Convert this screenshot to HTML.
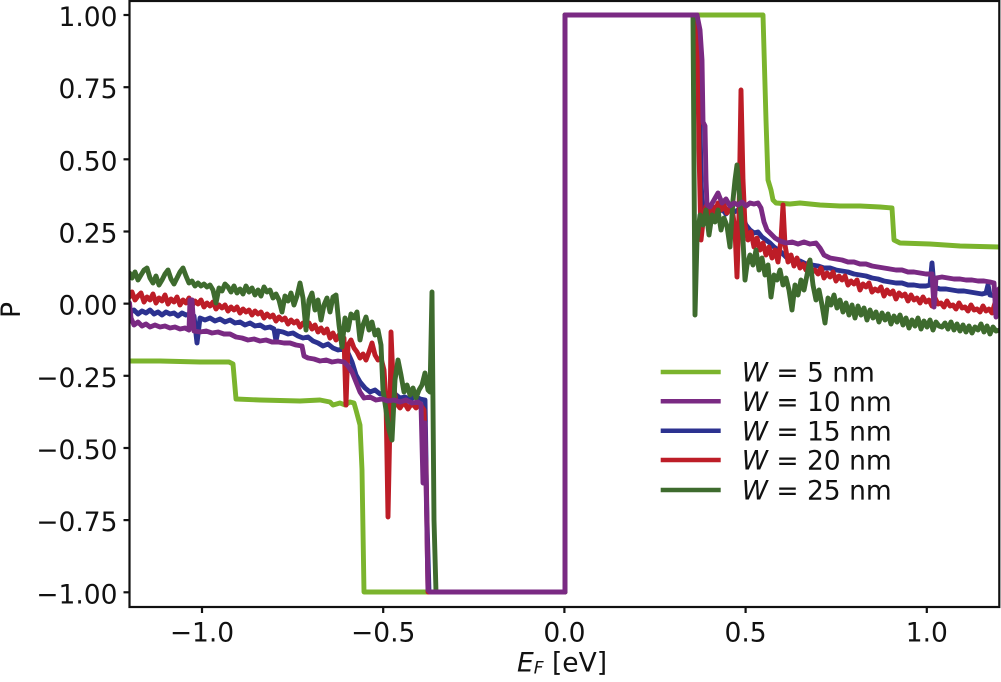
<!DOCTYPE html>
<html><head><meta charset="utf-8"><style>
html,body{margin:0;padding:0;background:#fff;}
svg{display:block;}
text{font-family:"DejaVu Sans","Liberation Sans",sans-serif;fill:#111;}
</style></head><body>
<svg width="1001" height="682" viewBox="0 0 1001 682" xmlns="http://www.w3.org/2000/svg">
<defs><clipPath id="ax"><rect x="129.5" y="1" width="869.8" height="606"/></clipPath></defs>
<rect width="1001" height="682" fill="#fff"/>
<g clip-path="url(#ax)" fill="none" stroke-width="4.9" stroke-linejoin="round" stroke-linecap="round">
<!-- W=5 light green -->
<polyline stroke="#7bb42d" points="129.5,361 160,361 200,362 229,362 233,364 236,399 260,400 300,401 320,400 330,402 333,405 340,403 345,405 350,402 354,403 356,410 360,425 362,470 364,592 565,592 565,15 763,15 766,120 768,180 771,190 773,200 776,203 790,204 800,203 820,205 840,206 860,206 880,207 892,208 894,240 900,243 930,244 960,246 1000,247"/>
<!-- W=15 blue -->
<polyline stroke="#2c3290" points="129.5,313 134,310 138,314 142,311 146,313 150,310 154,314 158,312 162,315 166,312 170,314 174,313 178,316 182,313 186,315 190,314 194,316 197,343 200,318 205,320 210,318 215,321 220,319 225,322 230,320 235,323 240,322 245,325 250,323 255,326 260,325 265,328 270,327 274,329 276,341 278,331 283,332 288,334 293,333 298,336 303,338 308,337 313,341 318,343 323,346 328,344 333,348 338,350 343,349 348,353 352,362 356,375 360,382 365,388 370,392 375,390 380,394 385,393 390,396 395,394 400,398 405,397 410,400 415,396 420,399 425,400 427,520 429,592 565,592 565,15 697,15 699,60 701,180 703,222 706,206 710,212 714,208 718,213 722,209 726,214 730,208 734,212 738,210 742,215 746,225 750,230 754,233 758,232 762,237 766,240 770,243 774,247 778,250 782,253 786,257 790,260 795,262 800,261 806,264 812,265 818,266 824,268 830,268 836,270 842,271 848,272 854,274 860,275 866,276 872,278 878,279 884,281 890,282 896,283 902,283 908,285 914,285 920,286 926,286 930,285 932,263 934,287 940,289 946,289 952,290 958,291 964,291 970,292 976,293 982,294 986,293 988,285 990,295 995,296 1000,296"/>
<!-- W=20 red -->
<polyline stroke="#bd1d27" points="129.5,297 132,292 135,300 138,296 141,293 144,302 147,297 150,300 153,294 156,303 159,298 162,301 165,295 168,304 171,299 174,302 177,297 180,305 183,300 186,303 189,298 192,306 195,301 198,304 201,300 204,307 207,303 210,306 213,302 216,309 219,305 222,308 225,305 228,311 231,307 234,310 237,307 240,313 243,309 246,312 249,310 252,315 255,311 258,314 261,312 264,318 267,314 270,317 273,315 276,321 279,317 282,320 285,318 288,324 291,320 294,323 297,321 300,327 303,323 306,326 309,323 312,329 315,325 318,332 321,328 324,333 327,329 330,338 333,333 336,340 339,335 342,342 344,338 346,405 348,345 351,340 354,348 357,352 360,358 363,354 366,360 369,352 372,343 375,355 378,360 381,358 384,370 386,400 388,517 390,420 391,332 393,380 396,403 400,408 404,402 408,409 412,403 416,408 420,404 424,410 426,470 428,592 565,592 565,15 697,15 699,150 701,240 703,222 706,206 709,214 712,205 715,212 718,203 721,210 724,205 727,213 730,207 733,215 735,230 737,277 739,215 741,90 743,180 745,225 748,240 751,232 754,247 757,238 760,250 763,243 766,255 769,247 772,258 775,250 778,262 781,240 783,205 785,245 788,262 791,255 794,266 797,258 800,268 803,264 806,270 809,262 812,272 815,270 818,274 821,268 824,278 827,273 830,277 833,272 836,281 839,276 842,280 845,276 848,285 851,281 854,284 857,280 860,290 863,284 866,287 869,283 872,292 875,289 878,291 881,287 884,296 887,290 890,294 893,291 896,299 899,293 902,296 905,294 908,301 911,295 914,300 917,298 920,303 923,297 926,302 929,300 932,306 935,298 938,304 941,303 944,307 947,301 950,306 953,305 956,309 959,303 962,308 965,307 968,311 971,305 974,310 977,309 980,312 983,306 986,311 989,309 992,313 995,303 998,311 1000,309"/>
<!-- W=25 dark green -->
<polyline stroke="#3e6b2e" points="129.5,273 132,278 135,272 138,280 141,275 144,270 147,268 150,278 153,283 156,276 159,285 162,280 165,274 168,270 171,279 174,284 177,278 180,272 183,268 186,276 189,283 192,281 195,286 198,283 201,286 204,284 207,287 210,285 213,290 216,303 219,288 222,291 225,284 228,287 231,292 234,286 237,293 240,289 243,294 246,286 249,292 252,288 255,295 258,290 261,296 264,287 267,292 270,290 273,298 276,294 279,300 282,312 285,296 288,301 291,293 294,305 297,296 300,283 303,298 306,330 309,300 312,293 315,310 318,300 321,320 324,305 327,298 330,312 333,297 336,295 339,325 342,347 345,318 348,330 351,314 354,318 357,312 360,340 363,325 366,317 369,330 372,322 375,335 378,330 381,345 383,390 386,410 389,430 392,440 395,380 398,360 401,375 404,392 407,385 410,395 413,388 416,398 419,390 422,385 425,373 428,390 430,392 432,292 434,520 436,592 565,592 565,15 693,15 695,315 697,240 700,215 703,225 706,210 709,235 712,215 715,222 718,210 721,230 724,218 727,226 730,247 733,200 735,180 737,165 739,190 741,215 743,240 745,280 747,265 750,255 753,265 756,250 759,270 762,258 765,275 768,265 771,297 774,275 777,280 780,270 783,285 786,278 789,290 792,310 795,285 798,295 801,280 804,290 807,275 810,260 813,285 816,300 819,290 822,305 825,323 828,298 831,305 834,295 837,308 840,300 843,312 846,303 849,315 852,305 855,318 858,306 861,315 864,308 867,320 870,310 873,318 876,312 879,322 882,313 885,320 888,314 891,324 894,316 897,322 900,315 903,325 906,318 909,328 912,320 915,326 918,318 921,329 924,321 927,327 930,320 933,330 936,322 939,326 942,327 945,323 948,329 951,322 954,330 957,324 960,331 963,325 966,332 969,326 972,333 975,327 978,330 981,324 984,332 987,326 990,334 993,327 996,331 1000,330"/>
<!-- W=10 purple -->
<polyline stroke="#7a2a83" points="129.5,303 131,318 134,325 138,322 142,326 146,324 150,327 155,325 160,327 165,326 170,328 175,327 180,329 185,328 189,330 190,300 192,300 194,331 200,332 206,331 212,333 218,332 224,334 230,334 236,337 242,338 248,340 254,339 260,341 266,340 272,342 278,342 284,343 290,343 296,345 302,346 304,356 308,358 314,359 320,361 326,360 332,362 338,361 344,362 348,366 352,372 356,382 360,392 364,398 370,397 376,400 382,399 388,401 394,400 400,402 406,400 412,403 418,402 421,404 423,483 425,423 428,590 430,592 565,592 565,15 697,15 700,30 702,60 703,122 705,126 706,180 707,205 710,207 714,200 718,193 722,203 726,199 730,206 734,203 738,205 742,202 746,206 750,203 754,204 758,203 761,208 764,222 767,230 771,234 775,238 780,241 786,243 792,242 798,244 804,242 810,244 816,243 820,248 824,255 830,258 836,259 842,260 848,262 854,262 860,264 866,264 872,266 878,267 884,268 890,269 896,270 902,270 908,272 914,272 920,273 926,274 932,274 934,307 936,278 942,277 948,278 954,279 960,279 966,280 972,280 978,281 984,281 990,282 994,283 996,317 998,290 1000,288"/>
</g>
<!-- spines -->
<g stroke="#111" stroke-width="2.2" fill="none">
<rect x="129.5" y="1" width="869.8" height="606"/>
<line x1="123.5" y1="15" x2="129.5" y2="15"/>
<line x1="123.5" y1="87.2" x2="129.5" y2="87.2"/>
<line x1="123.5" y1="159.3" x2="129.5" y2="159.3"/>
<line x1="123.5" y1="231.5" x2="129.5" y2="231.5"/>
<line x1="123.5" y1="303.65" x2="129.5" y2="303.65"/>
<line x1="123.5" y1="375.8" x2="129.5" y2="375.8"/>
<line x1="123.5" y1="448" x2="129.5" y2="448"/>
<line x1="123.5" y1="520.1" x2="129.5" y2="520.1"/>
<line x1="123.5" y1="592.3" x2="129.5" y2="592.3"/>
<line x1="202" y1="607" x2="202" y2="613"/>
<line x1="383.2" y1="607" x2="383.2" y2="613"/>
<line x1="564.4" y1="607" x2="564.4" y2="613"/>
<line x1="745.6" y1="607" x2="745.6" y2="613"/>
<line x1="926.8" y1="607" x2="926.8" y2="613"/>
</g>
<!-- y tick labels -->
<g font-size="26.5" text-anchor="end">
<text x="117.5" y="26">1.00</text>
<text x="117.5" y="98.2">0.75</text>
<text x="117.5" y="170.3">0.50</text>
<text x="117.5" y="242.5">0.25</text>
<text x="117.5" y="314.6">0.00</text>
<text x="117.5" y="386.8">−0.25</text>
<text x="117.5" y="459">−0.50</text>
<text x="117.5" y="531.1">−0.75</text>
<text x="117.5" y="603.3">−1.00</text>
</g>
<!-- x tick labels -->
<g font-size="26.5" text-anchor="middle">
<text x="202" y="641.7">−1.0</text>
<text x="383.2" y="641.7">−0.5</text>
<text x="564.4" y="641.7">0.0</text>
<text x="745.6" y="641.7">0.5</text>
<text x="926.8" y="641.7">1.0</text>
</g>
<!-- axis labels -->
<text x="517" y="671.7" font-size="26.5"><tspan font-style="italic">E</tspan><tspan font-style="italic" font-size="17" dy="2">F</tspan><tspan dy="-2"> [eV]</tspan></text>
<text transform="translate(20,310) rotate(-90)" font-size="26.5" text-anchor="middle">P</text>
<!-- legend -->
<g stroke-width="4.5" fill="none">
<line x1="660.7" y1="372" x2="720.7" y2="372" stroke="#7bb42d"/>
<line x1="660.7" y1="401.3" x2="720.7" y2="401.3" stroke="#7a2a83"/>
<line x1="660.7" y1="430.7" x2="720.7" y2="430.7" stroke="#2c3290"/>
<line x1="660.7" y1="460" x2="720.7" y2="460" stroke="#bd1d27"/>
<line x1="660.7" y1="490" x2="720.7" y2="490" stroke="#3e6b2e"/>
</g>
<g font-size="26.5">
<text x="741.7" y="381.7"><tspan font-style="italic">W</tspan> = 5 nm</text>
<text x="741.7" y="411"><tspan font-style="italic">W</tspan> = 10 nm</text>
<text x="741.7" y="440.4"><tspan font-style="italic">W</tspan> = 15 nm</text>
<text x="741.7" y="469.7"><tspan font-style="italic">W</tspan> = 20 nm</text>
<text x="741.7" y="499.7"><tspan font-style="italic">W</tspan> = 25 nm</text>
</g>
</svg>
</body></html>
